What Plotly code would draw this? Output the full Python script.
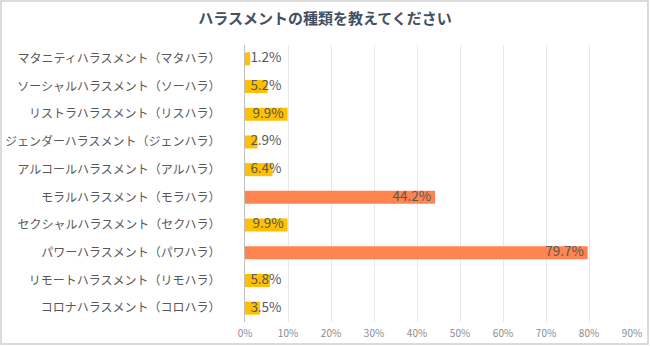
import plotly.graph_objects as go

categories = [
    "マタニティハラスメント（マタハラ）",
    "ソーシャルハラスメント（ソーハラ）",
    "リストラハラスメント（リスハラ）",
    "ジェンダーハラスメント（ジェンハラ）",
    "アルコールハラスメント（アルハラ）",
    "モラルハラスメント（モラハラ）",
    "セクシャルハラスメント（セクハラ）",
    "パワーハラスメント（パワハラ）",
    "リモートハラスメント（リモハラ）",
    "コロナハラスメント（コロハラ）",
]
values = [1.2, 5.2, 9.9, 2.9, 6.4, 44.2, 9.9, 79.7, 5.8, 3.5]
tick_vals = [0, 10, 20, 30, 40, 50, 60, 70, 80, 90]
tick_text = ["0%", "10%", "20%", "30%", "40%", "50%", "60%", "70%", "80%", "90%"]

YELLOW = "#FFC000"
ORANGE = "#FF8450"
colors = [ORANGE if v > 20 else YELLOW for v in values]
labels = [f"{v:.1f}%" for v in values]
PAD = 0.9
MIN_LABEL_X = 8.5
label_x = [max(v - PAD, MIN_LABEL_X) for v in values]

font_family = "Noto Sans CJK JP, Noto Sans, sans-serif"

W, H = 650, 346
L, R, T, B = 245, 18, 45, 24
pw, ph = W - L - R, H - T - B

fig = go.Figure()
fig.add_trace(go.Bar(
    y=categories, x=values, orientation="h",
    marker=dict(color=colors, line=dict(width=0)),
    hoverinfo="x+y",
))
fig.add_trace(go.Scatter(
    y=categories, x=label_x, mode="text", text=labels,
    textposition="middle left",
    textfont=dict(size=13.5, color="#595959", family=font_family),
    hoverinfo="skip",
))

fig.update_layout(
    width=W, height=H,
    margin=dict(l=L, r=R, t=T, b=B, autoexpand=False),
    paper_bgcolor="white", plot_bgcolor="white",
    showlegend=False,
    bargap=0.53,
    title=dict(
        text="<b>ハラスメントの種類を教えてください</b>",
        x=0.5, xanchor="center", y=0.945, yanchor="middle",
        font=dict(size=15, color="#44505F", family=font_family),
    ),
    xaxis=dict(
        range=[0, 90], tickvals=tick_vals, ticktext=tick_text,
        showgrid=True, gridcolor="#E8E8E8", gridwidth=1,
        zeroline=False, showline=False, automargin=False,
        tickfont=dict(size=10, color="#8C8C8C", family=font_family),
        ticks="", ticklen=0, ticklabelstandoff=4,
    ),
    yaxis=dict(
        autorange="reversed", automargin=False,
        showline=True, linecolor="#BFBFBF", linewidth=1,
        showgrid=False, ticks="",
        tickfont=dict(size=12, color="#595959", family=font_family),
        ticklabelstandoff=21,
    ),
    shapes=[dict(
        type="rect", xref="paper", yref="paper",
        x0=-(L - 1) / pw, x1=1 + (R - 2) / pw,
        y0=-(B - 2) / ph, y1=1 + (T - 1) / ph,
        line=dict(color="#D0D0D0", width=1.5),
    )],
)

fig.write_html("out.html")
